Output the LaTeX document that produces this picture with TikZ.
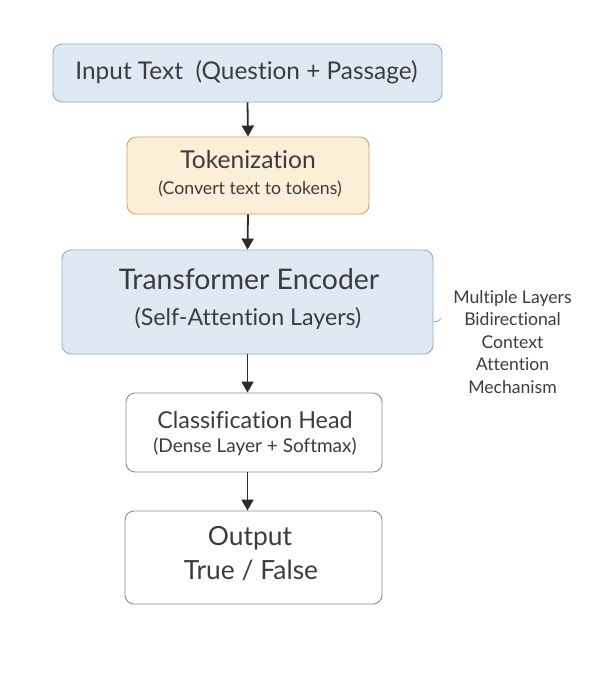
\documentclass[tikz,border=0pt]{standalone}
\usepackage{fontspec}
\setmainfont{Lato}[Ligatures=NoCommon]
\usetikzlibrary{arrows.meta,positioning}
\definecolor{txt}{HTML}{3C3C3C}
\definecolor{bluefill}{HTML}{DFE9F3}
\definecolor{blueline}{HTML}{8EAFCD}
\definecolor{orfill}{HTML}{FCEFD7}
\definecolor{orline}{HTML}{D2A467}
\definecolor{greyline}{HTML}{8C8C8C}
\definecolor{arr}{HTML}{2B2B2B}
\tikzset{
  box/.style={draw, rounded corners=9pt, line width=0.9pt, inner sep=0pt},
  bluebox/.style={box, fill=bluefill, draw=blueline},
  orbox/.style={box, fill=orfill, draw=orline},
  whitebox/.style={box, fill=white, draw=greyline},
  lbl/.style={text=txt, inner sep=0pt, anchor=center},
  flow/.style={draw=arr, line width=1.8pt, -{Triangle[length=11pt,width=12pt]}},
  note/.style={text=txt, align=center, inner sep=0pt, font=\fontsize{17.6}{22.5}\selectfont}
}
\begin{document}
\begin{tikzpicture}[x=1pt,y=-1pt]
\useasboundingbox[fill=white] (0,0) rectangle (600,696);
% boxes
\node[bluebox, minimum width=389pt, minimum height=58pt] (in) at (247.5,73) {};
\node[orbox, minimum width=242pt, minimum height=77pt] (tok) at (248,175.5) {};
\node[bluebox, minimum width=371pt, minimum height=104pt] (enc) at (247.5,302) {};
\node[whitebox, minimum width=256pt, minimum height=79pt] (cls) at (254,432.5) {};
\node[whitebox, minimum width=257pt, minimum height=93pt] (out) at (253.5,557.5) {};
% texts
\node[lbl, font=\fontsize{24.4}{28}\selectfont] (inT) at (246.5,72) {Input Text\ \ (Question + Passage)};
\node[lbl, font=\fontsize{24.6}{28}\selectfont] (tokT) at (248,160) {Tokenization};
\node[lbl, font=\fontsize{17.7}{20}\selectfont] (tokS) at (250,189) {(Convert text to tokens)};
\node[lbl, font=\fontsize{28.4}{32}\selectfont] (encT) at (249,279) {Transformer Encoder};
\node[lbl, font=\fontsize{23.2}{26}\selectfont] (encS) at (248,318) {(Self-Attention Layers)};
\node[lbl, font=\fontsize{23.3}{26}\selectfont] (clsT) at (255,420) {Classification Head};
\node[lbl, font=\fontsize{19}{22}\selectfont] (clsS) at (255,447) {(Dense Layer + Softmax)};
\node[lbl, font=\fontsize{26.4}{30}\selectfont] (outT) at (250,538) {Output};
\node[lbl, font=\fontsize{26.4}{30}\selectfont] (outS) at (251,570) {True / False};
\node[note] (side) at (512.5,342) {Multiple Layers\\Bidirectional\\Context\\Attention\\Mechanism};
\coordinate (tick) at (441,318.5);
% connectors
\draw[flow] (in.south) -- (tok.north);
\draw[flow] (tok.south) -- (enc.north);
\draw[flow] (enc.south) -- (enc.south |- cls.north);
\draw[flow] (enc.south |- cls.south) -- (enc.south |- out.north);
\draw[blueline, line width=0.8pt] (enc.east |- 0,321.5) .. controls (437,322) .. (tick);
\end{tikzpicture}
\end{document}
